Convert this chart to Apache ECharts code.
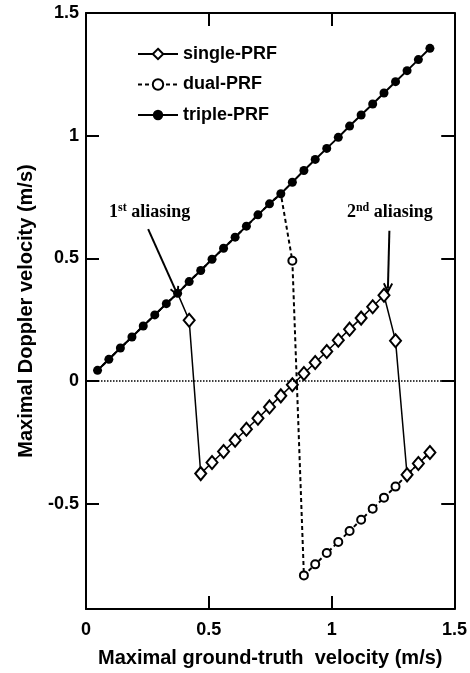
<!DOCTYPE html>
<html>
<head>
<meta charset="utf-8">
<script src="https://cdn.jsdelivr.net/npm/echarts@6/dist/echarts.min.js"></script>
<style>
  html, body { margin: 0; padding: 0; background: #fff; }
  #chart { width: 470px; height: 673px; }
</style>
</head>
<body>
<div id="chart"></div>
<script>
// Maximal ground-truth velocity (m/s), one sample per step
const groundTruth = [0.047, 0.093, 0.140, 0.187, 0.233, 0.280, 0.327, 0.373, 0.420, 0.467,
                     0.513, 0.560, 0.607, 0.653, 0.700, 0.747, 0.793, 0.840, 0.887, 0.933,
                     0.980, 1.027, 1.073, 1.120, 1.167, 1.213, 1.260, 1.307, 1.353, 1.400];

// Maximal Doppler velocity (m/s) for each scheme
const triplePRF = [0.043, 0.088, 0.134, 0.179, 0.224, 0.269, 0.315, 0.357, 0.405, 0.450,
                   0.496, 0.541, 0.586, 0.631, 0.677, 0.722, 0.763, 0.810, 0.858, 0.903,
                   0.948, 0.993, 1.039, 1.084, 1.129, 1.174, 1.220, 1.265, 1.310, 1.356];

const singlePRF = [0.043, 0.088, 0.134, 0.179, 0.224, 0.269, 0.315, 0.357, 0.247, -0.378,
                   -0.333, -0.288, -0.242, -0.197, -0.152, -0.106, -0.061, -0.016, 0.030, 0.075,
                   0.120, 0.166, 0.211, 0.256, 0.302, 0.349, 0.164, -0.383, -0.337, -0.292];

const dualPRF = [0.043, 0.088, 0.134, 0.179, 0.224, 0.269, 0.315, 0.357, 0.405, 0.450,
                 0.496, 0.541, 0.586, 0.631, 0.677, 0.722, 0.763, 0.490, -0.793, -0.748,
                 -0.702, -0.657, -0.612, -0.566, -0.521, -0.476, -0.431, -0.383, -0.337, -0.292];

const xTicks = [0, 0.5, 1, 1.5];
const yTicks = [-0.5, 0, 0.5, 1, 1.5];

const seriesNames = ['single-PRF', 'dual-PRF', 'triple-PRF'];

// Annotation arrows: [start, end] in data units
const arrow1 = [[0.253, 0.619], [0.368, 0.362]];
const arrow2 = [[1.235, 0.612], [1.229, 0.377]];
const label1Pos = [0.259, 0.688];
const label2Pos = [1.237, 0.688];

const SANS = '"Liberation Sans", Arial, sans-serif';
const SERIF = '"Liberation Serif", "Times New Roman", serif';

const X_MIN = 0, X_MAX = 1.5, Y_MIN = -0.93, Y_MAX = 1.5;
// Length of the inward frame ticks, in data units along each axis
const TICK_DX = 0.053, TICK_DY = 0.053;

// Points that sit on the triple-PRF curve are covered by its filled markers
function buildData(values) {
  return values.map((v, i) => {
    const item = { value: [groundTruth[i], v] };
    if (v === triplePRF[i] && values !== triplePRF) {
      item.symbol = 'none';
    }
    return item;
  });
}

// Inward ticks on all four sides of the frame
function frameTicks() {
  const style = { color: '#000', width: 2, type: 'solid' };
  const segs = [];
  xTicks.filter(v => v > X_MIN && v < X_MAX).forEach(v => {
    segs.push([{ coord: [v, Y_MIN], lineStyle: style }, { coord: [v, Y_MIN + TICK_DY] }]);
    segs.push([{ coord: [v, Y_MAX], lineStyle: style }, { coord: [v, Y_MAX - TICK_DY] }]);
  });
  yTicks.filter(v => v > Y_MIN && v < Y_MAX).forEach(v => {
    segs.push([{ coord: [X_MIN, v], lineStyle: style }, { coord: [X_MIN + TICK_DX, v] }]);
    segs.push([{ coord: [X_MAX, v], lineStyle: style }, { coord: [X_MAX - TICK_DX, v] }]);
  });
  return segs;
}

const chevron = 'path://M5,0 L10,10 L8.4,11 L5,4.6 L1.6,11 L0,10 Z';

function frameLine() { return { color: '#000', width: 2 }; }
function xInnerTick() { return { show: true, inside: true, length: 13, lineStyle: frameLine() }; }
function yInnerTick() { return { show: true, inside: true, length: 13, lineStyle: frameLine(), customValues: yTicks }; }

const option = {
  animation: false,
  grid: { left: 86, right: 15, top: 13, bottom: 62 },
  legend: {
    data: seriesNames,
    orient: 'vertical',
    left: 132,
    top: 40,
    itemWidth: 40,
    itemHeight: 13,
    itemGap: 12.5,
    textStyle: { fontFamily: SANS, fontWeight: 'bold', fontSize: 18, color: '#000' }
  },
  xAxis: [
    {
      type: 'value', position: 'bottom', min: X_MIN, max: X_MAX, interval: 0.5,
      axisLine: { show: true, onZero: false, lineStyle: frameLine() },
      axisTick: xInnerTick(),
      splitLine: { show: false },
      axisLabel: {
        margin: 12, color: '#000', fontFamily: SANS, fontWeight: 'bold', fontSize: 18,
        formatter: v => String(v)
      },
      name: 'Maximal ground-truth  velocity (m/s)',
      nameLocation: 'middle',
      nameGap: 39,
      nameTextStyle: { color: '#000', fontFamily: SANS, fontWeight: 'bold', fontSize: 20 }
    },
    {
      type: 'value', position: 'top', min: X_MIN, max: X_MAX, interval: 0.5,
      axisLine: { show: true, onZero: false, lineStyle: frameLine() },
      axisTick: xInnerTick(),
      splitLine: { show: false },
      axisLabel: { show: false }
    }
  ],
  yAxis: [
    {
      type: 'value', position: 'left', min: Y_MIN, max: Y_MAX,
      axisLine: { show: true, onZero: false, lineStyle: frameLine() },
      axisTick: yInnerTick(),
      splitLine: { show: false },
      axisLabel: {
        margin: 7, color: '#000', fontFamily: SANS, fontWeight: 'bold', fontSize: 18,
        customValues: yTicks,
        formatter: v => String(v)
      },
      name: 'Maximal Doppler velocity (m/s)',
      nameLocation: 'middle',
      nameGap: 50,
      nameTextStyle: { color: '#000', fontFamily: SANS, fontWeight: 'bold', fontSize: 20 }
    },
    {
      type: 'value', position: 'right', min: Y_MIN, max: Y_MAX,
      axisLine: { show: true, onZero: false, lineStyle: frameLine() },
      axisTick: yInnerTick(),
      splitLine: { show: false },
      axisLabel: { show: false, customValues: yTicks }
    }
  ],
  series: [
    {
      name: 'dual-PRF',
      type: 'line',
      z: 2,
      data: buildData(dualPRF),
      symbol: 'circle',
      symbolSize: 8,
      showAllSymbol: true,
      lineStyle: { color: '#000', width: 2, type: [4, 3] },
      itemStyle: { color: '#fff', borderColor: '#000', borderWidth: 2 },
      markLine: {
        silent: true,
        symbol: 'none',
        label: { show: false },
        lineStyle: { color: '#000', width: 1.5, type: [1.5, 1.5] },
        data: [{ yAxis: 0 }].concat(frameTicks())
      }
    },
    {
      name: 'single-PRF',
      type: 'line',
      z: 3,
      data: buildData(singlePRF),
      symbol: 'diamond',
      symbolSize: [11, 13],
      showAllSymbol: true,
      lineStyle: { color: '#000', width: 1.5, type: 'solid' },
      itemStyle: { color: '#fff', borderColor: '#000', borderWidth: 2 },
      markPoint: {
        silent: true,
        symbolSize: 0,
        label: {
          show: true,
          position: 'inside',
          color: '#000',
          formatter: p => p.name === 'a1' ? '{n|1}{s|st}{t| aliasing}' : '{n|2}{s|nd}{t| aliasing}',
          rich: {
            n: { fontFamily: SERIF, fontWeight: 'bold', fontSize: 18, color: '#000', lineHeight: 20 },
            s: { fontFamily: SERIF, fontWeight: 'bold', fontSize: 12, color: '#000', lineHeight: 20, verticalAlign: 'top' },
            t: { fontFamily: SERIF, fontWeight: 'bold', fontSize: 18, color: '#000', lineHeight: 20 }
          }
        },
        data: [
          { name: 'a1', coord: label1Pos },
          { name: 'a2', coord: label2Pos }
        ]
      }
    },
    {
      name: 'triple-PRF',
      type: 'line',
      z: 4,
      data: buildData(triplePRF),
      symbol: 'circle',
      symbolSize: 9,
      showAllSymbol: true,
      lineStyle: { color: '#000', width: 2 },
      itemStyle: { color: '#000', borderColor: '#000', borderWidth: 0 },
      markLine: {
        silent: true,
        symbol: ['none', chevron],
        symbolSize: [10, 11],
        label: { show: false },
        lineStyle: { color: '#000', width: 2, type: 'solid' },
        data: [
          [{ coord: arrow1[0] }, { coord: arrow1[1] }],
          [{ coord: arrow2[0] }, { coord: arrow2[1] }]
        ]
      }
    }
  ]
};

const chart = echarts.init(document.getElementById('chart'), null, { renderer: 'canvas' });
chart.setOption(option);
chart.getZr().flush();
// Repaint once the page has settled
setTimeout(() => {
  chart.resize();
  chart.getZr().flush();
}, 300);
</script>
</body>
</html>
